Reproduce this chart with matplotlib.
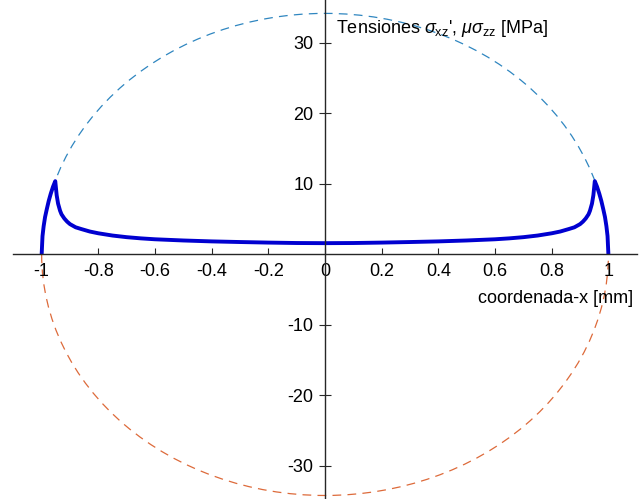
import numpy as np
import matplotlib
matplotlib.use('Agg')
import matplotlib.pyplot as plt
from matplotlib.patches import Arc

plt.rcParams['font.family'] = ['Liberation Sans', 'DejaVu Sans']
plt.rcParams['mathtext.fontset'] = 'custom'
plt.rcParams['mathtext.rm'] = 'Liberation Sans'
plt.rcParams['mathtext.it'] = 'Liberation Sans:italic'
plt.rcParams['axes.unicode_minus'] = False

# contact half-width [mm] and peak normal traction mu*p0 [MPa]
half_width = 1.0
peak_traction = 34.2

# shear traction, right half (the curve is symmetric)
x_half = np.array([0.0, 0.1, 0.2, 0.3, 0.4, 0.5, 0.6, 0.65, 0.7, 0.75, 0.8, 0.83,
                   0.86, 0.88, 0.9, 0.91, 0.92, 0.93, 0.935, 0.942, 0.947, 0.952,
                   0.96, 0.968, 0.975, 0.982, 0.988, 0.993, 0.997, 1.0])
sigma_half = np.array([1.6, 1.62, 1.68, 1.76, 1.85, 1.98, 2.15, 2.28, 2.45, 2.68, 3.0, 3.25,
                       3.6, 3.85, 4.3, 4.65, 5.1, 5.7, 6.2, 7.2, 8.4, 10.4,
                       9.6, 8.6, 7.6, 6.4, 5.3, 4.0, 2.6, 0.0])

x_tau = np.concatenate([-x_half[::-1], x_half[1:]])
tau = np.concatenate([sigma_half[::-1], sigma_half[1:]])

xticks = [-1, -0.8, -0.6, -0.4, -0.2, 0, 0.2, 0.4, 0.6, 0.8, 1]
xtick_labels = ['-1', '-0.8', '-0.6', '-0.4', '-0.2', '0', '0.2', '0.4', '0.6', '0.8', '1']
yticks = [-30, -20, -10, 10, 20, 30]

fig = plt.figure(figsize=(6.39, 4.99), dpi=100)
ax = fig.add_axes([0, 0, 1, 1])
ax.set_xlim(-1.147, 1.108)
ax.set_ylim(-34.7, 36.1)

# upper (mu*sigma_zz) and lower (-mu*sigma_zz) halves of the traction ellipse
ax.add_patch(Arc((0, 0), 2 * half_width, 2 * peak_traction, theta1=0, theta2=180,
                 color='#2f86c0', lw=0.9, ls=(0, (7, 5))))
ax.add_patch(Arc((0, 0), 2 * half_width, 2 * peak_traction, theta1=180, theta2=360,
                 color='#dd6a3a', lw=0.9, ls=(0, (7, 5))))

ax.plot(x_tau, tau, color='#0000d0', lw=2.8, solid_capstyle='butt')

for side in ['top', 'right']:
    ax.spines[side].set_visible(False)
ax.spines['left'].set_position(('data', 0))
ax.spines['bottom'].set_position(('data', 0))
ax.spines['bottom'].set_bounds(-1.1, 1.1)
for side in ['left', 'bottom']:
    ax.spines[side].set_color('#262626')
    ax.spines[side].set_linewidth(1.0)

ax.set_xticks(xticks)
ax.set_xticklabels(xtick_labels)
ax.set_yticks(yticks)
ax.tick_params(axis='x', direction='in', length=4, pad=6, labelsize=13, color='#262626')
ax.tick_params(axis='y', direction='inout', length=8, pad=4.3, labelsize=13, color='#262626')

ax.text(0.039, 31.4, r"Tensiones $\sigma_{\mathrm{xz}}$', $\mu\sigma_{\mathrm{zz}}$ [MPa]",
        fontsize=13, ha='left', va='baseline')
ax.text(1.087, -6.9, 'coordenada-x [mm]', fontsize=13, ha='right', va='baseline')

fig.savefig('out.png', dpi=100)
